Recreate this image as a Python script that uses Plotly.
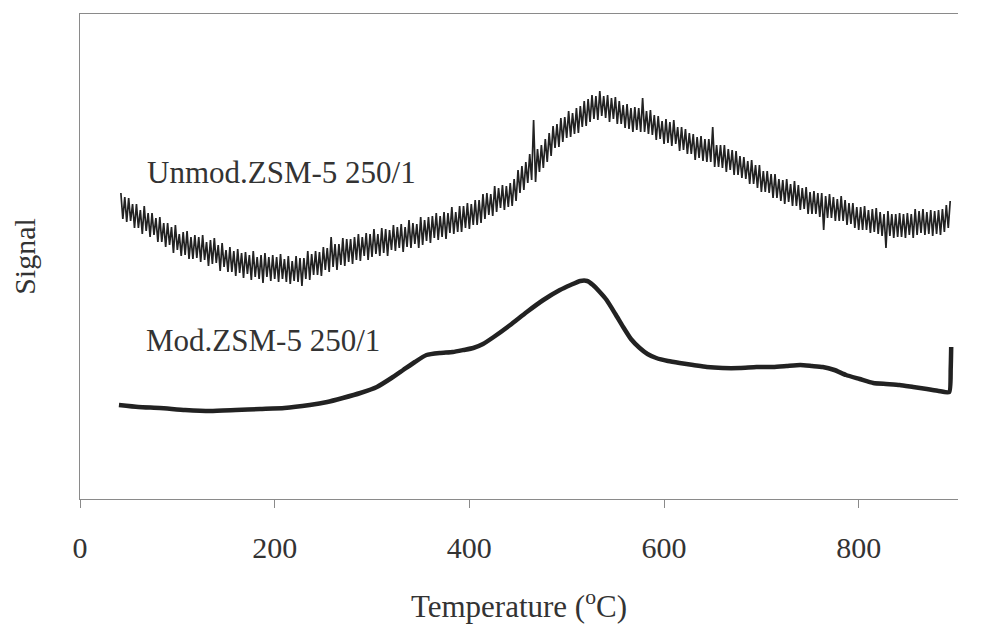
import plotly.graph_objects as go

# ---------------- data ----------------
# Unmodified ZSM-5 (noisy trace), sampled every 2 degC from 42 to 894
unmod_t_start = 42
unmod_t_step = 2
unmod_signal = [
    306, 280, 302, 277, 301, 278, 295, 271, 295, 271, 289, 265, 293, 268, 286, 262, 286, 264, 281, 257,
    282, 257, 276, 252, 276, 254, 272, 246, 274, 249, 265, 243, 267, 244, 268, 240, 262, 240, 264, 241,
    262, 237, 264, 239, 257, 233, 259, 235, 261, 236, 254, 228, 256, 232, 249, 227, 252, 227, 248, 223,
    250, 226, 246, 221, 247, 225, 244, 219, 248, 222, 242, 220, 244, 216, 246, 222, 242, 218, 244, 220,
    242, 217, 245, 220, 240, 217, 243, 215, 238, 218, 243, 217, 241, 213, 241, 220, 248, 219, 245, 224,
    248, 224, 247, 223, 252, 229, 251, 227, 262, 232, 255, 229, 255, 234, 261, 233, 260, 237, 260, 235,
    262, 239, 265, 238, 262, 243, 266, 239, 265, 242, 270, 245, 265, 243, 271, 246, 270, 243, 269, 249,
    274, 248, 272, 251, 275, 247, 272, 252, 279, 251, 276, 255, 275, 251, 282, 254, 279, 258, 282, 256,
    283, 261, 286, 259, 283, 262, 287, 260, 286, 266, 292, 265, 287, 267, 293, 267, 293, 271, 296, 270,
    295, 274, 299, 274, 299, 276, 305, 280, 306, 284, 305, 283, 313, 287, 311, 291, 314, 289, 313, 292,
    316, 293, 320, 298, 329, 306, 333, 309, 337, 316, 345, 319, 379, 317, 350, 327, 354, 331, 360, 337,
    366, 343, 373, 351, 375, 352, 381, 357, 382, 361, 388, 362, 386, 365, 391, 366, 393, 372, 398, 373,
    400, 377, 404, 380, 403, 379, 408, 383, 403, 381, 404, 377, 401, 380, 402, 375, 398, 375, 394, 371,
    395, 370, 391, 367, 392, 369, 391, 367, 401, 367, 388, 365, 389, 364, 384, 359, 383, 360, 378, 355,
    380, 356, 377, 353, 379, 355, 372, 348, 372, 349, 370, 345, 366, 345, 365, 339, 362, 341, 363, 338,
    360, 337, 360, 337, 372, 332, 354, 332, 354, 331, 354, 327, 350, 329, 349, 324, 348, 324, 343, 321,
    342, 320, 338, 315, 339, 315, 334, 311, 334, 307, 328, 307, 328, 306, 325, 301, 325, 301, 320, 298,
    319, 295, 320, 297, 315, 293, 318, 293, 314, 289, 311, 290, 312, 285, 307, 285, 308, 285, 306, 282,
    306, 269, 303, 281, 305, 281, 302, 278, 300, 278, 303, 278, 299, 274, 296, 275, 296, 271, 292, 269,
    292, 269, 293, 269, 289, 266, 290, 267, 291, 265, 287, 263, 285, 251, 288, 263, 285, 261, 285, 262,
    286, 262, 285, 261, 286, 264, 285, 261, 290, 264, 288, 266, 290, 264, 287, 265, 289, 263, 288, 265,
    289, 264, 290, 267, 294, 271, 298,
]
unmod_temp = [unmod_t_start + unmod_t_step * i for i in range(len(unmod_signal))]

# Modified ZSM-5 (smoother trace)
mod_temp = [40, 60, 82, 108, 134, 160, 185, 210, 236, 254, 270, 288, 305, 320, 332,
            344, 356, 370, 383, 394, 404, 414, 425, 442, 459, 476, 493, 504, 514,
            521, 527, 534, 541, 550, 558, 566, 575, 583, 592, 604, 616, 630, 644,
            660, 678, 695, 712, 726, 740, 752, 763, 775, 787, 801, 815, 828, 842,
            856, 870, 882, 893, 894.5, 895]
mod_signal = [94, 92, 91, 89, 88, 89, 90, 91, 94, 97, 101, 106, 112, 121, 129,
              137, 144, 146, 147, 149, 151, 155, 162, 174, 187, 199, 209, 214, 218,
              218, 214, 207, 199, 185, 172, 160, 151, 145, 141, 138, 136, 134, 132,
              131, 131, 132, 132, 133, 134, 133, 132, 129, 124, 120, 116, 115, 114,
              112, 110, 108, 107, 130, 152]

x_ticks = [0, 200, 400, 600, 800]
x_title = "Temperature (<sup>o</sup>C)"
y_title = "Signal"
label_unmod = "Unmod.ZSM-5 250/1"
label_mod = "Mod.ZSM-5 250/1"

# ---------------- figure ----------------
FONT = "Liberation Serif, Times New Roman, serif"
INK = "#222222"
TXT = "#333333"

fig = go.Figure()
fig.add_trace(go.Scatter(
    x=unmod_temp, y=unmod_signal, mode="lines",
    line=dict(color=INK, width=1.7), showlegend=False, hoverinfo="skip"))
fig.add_trace(go.Scatter(
    x=mod_temp, y=mod_signal, mode="lines",
    line=dict(color=INK, width=4.5, shape="spline", smoothing=0.5),
    showlegend=False, hoverinfo="skip"))

fig.add_annotation(x=67, y=327, text=label_unmod, showarrow=False,
                   xanchor="left", yanchor="middle",
                   font=dict(family=FONT, size=31, color=TXT))
fig.add_annotation(x=66, y=159, text=label_mod, showarrow=False,
                   xanchor="left", yanchor="middle",
                   font=dict(family=FONT, size=31, color=TXT))

# the page body adds an 8px margin, so the figure is sized 8px smaller
fig.update_layout(
    width=986, height=616,
    margin=dict(l=72, r=36, t=6, b=125, autoexpand=False),
    paper_bgcolor="white", plot_bgcolor="white",
    font=dict(family=FONT, color=TXT),
)
fig.update_xaxes(
    range=[0, 902], tickvals=x_ticks, ticktext=[str(v) for v in x_ticks],
    showgrid=False, zeroline=False,
    showline=True, linecolor="#8a8a8a", linewidth=1, mirror=True,
    ticks="outside", ticklen=8, tickcolor="#8a8a8a",
    tickfont=dict(family=FONT, size=30, color=TXT),
    ticklabelstandoff=14,
    title=dict(text=x_title, font=dict(family=FONT, size=31, color=TXT),
               standoff=32),
)
fig.update_yaxes(
    range=[0, 485], showgrid=False, zeroline=False,
    showline=True, linecolor="#8a8a8a", linewidth=1,
    showticklabels=False, ticks="",
    title=dict(text=y_title, font=dict(family=FONT, size=30, color=TXT),
               standoff=40),
)

fig.write_html("out.html")
